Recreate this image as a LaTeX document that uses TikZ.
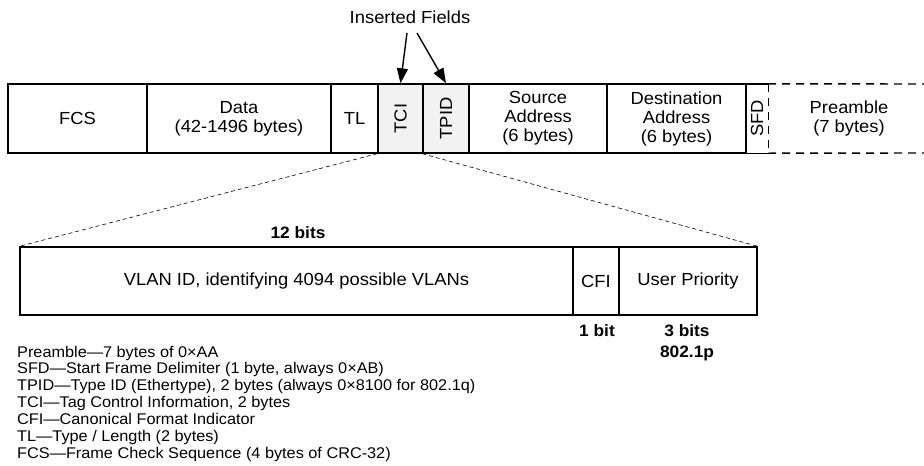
\documentclass[tikz,border=0pt]{standalone}
\usepackage{fontspec}
\setmainfont{Liberation Sans}[FakeStretch=1.05]
\usetikzlibrary{arrows.meta}
\newcommand\lblfont{\fontsize{17.5}{19}\selectfont}
\newcommand\legfont{\fontsize{15.5}{17}\selectfont}
\newcommand\bitfont{\fontsize{16.5}{20}\selectfont\bfseries}
\tikzset{
  frame/.style={line width=1.4pt},
  cell/.style={draw, frame, minimum height=69pt, inner sep=0pt, align=center, font=\lblfont},
  plain/.style={inner sep=0pt, align=center, font=\lblfont},
  inserted/.style={fill=black!5},
  zoomline/.style={dashed, dash pattern=on 4pt off 3pt, line width=0.6pt},
  openedge/.style={frame, dash pattern=on 8pt off 6pt},
  pointer/.style={line width=1.4pt, -{Triangle[length=15pt,width=11pt]}},
  bitlabel/.style={inner sep=0pt, font=\bitfont},
  legend/.style={inner sep=0pt, anchor=base west, font=\legfont}
}
\begin{document}
\begin{tikzpicture}[x=1pt, y=-1pt]
\useasboundingbox (0,0) rectangle (924,466);

% Ethernet frame with 802.1Q tag
\node[cell, minimum width=139pt] (fcs) at (77.5,118.5) {FCS};
\node[cell, minimum width=184pt] (data) at (239,118.5) {Data\\(42-1496 bytes)};
\node[cell, minimum width=47pt] (tl) at (354.5,118.5) {TL};
\node[cell, inserted, minimum width=45pt] (tci) at (400.5,118.5) {\rotatebox{90}{TCI}};
\node[cell, inserted, minimum width=46pt] (tpid) at (446,118.5) {\rotatebox{90}{TPID}};
\node[cell, minimum width=138pt] (src) at (538,118.5) {Source\\Address\\(6 bytes)};
\node[cell, minimum width=139pt] (dst) at (676.5,118.5) {Destination\\Address\\(6 bytes)};
\node[plain, minimum width=22pt, minimum height=69pt] (sfd) at (757,118.5) {\rotatebox{90}{SFD}};
\node[plain] (pre) at (849,118.5) {Preamble\\(7 bytes)};

% SFD: solid top and bottom, dashed right edge; preamble left open
\draw[frame] (sfd.north west) -- (sfd.north east);
\draw[frame] (sfd.south west) -- (sfd.south east);
\draw[openedge] (sfd.north east) -- (sfd.south east);
\coordinate (preNE) at (926,84);
\coordinate (preSE) at (926,153);
\draw[openedge] (sfd.north east) -- (preNE);
\draw[openedge] (sfd.south east) -- (preSE);

% Inserted fields callout
\node[plain] (ins) at (410,17) {Inserted Fields};
\coordinate (insA) at (407,33);
\coordinate (insB) at (417,33);
\draw[pointer] (insA) -- (tci.north);
\draw[pointer] (insB) -- (tpid.north);

% Tag control information, expanded
\node[cell, minimum width=553pt, minimum height=68pt] (vlan) at (296.5,281) {VLAN ID, identifying 4094 possible VLANs};
\node[cell, minimum width=46pt, minimum height=68pt] (cfi) at (596,281) {CFI};
\node[cell, minimum width=138pt, minimum height=68pt] (up) at (688,281) {User Priority};

\draw[zoomline] (tci.south west) -- (vlan.north west);
\draw[zoomline] (tpid.south west) -- (up.north east);

% Field widths
\node[bitlabel] (b12) at (298,233) {12 bits};
\node[bitlabel] (b1) at (597,331) {1 bit};
\node[bitlabel] (b3) at (687,331) {3 bits};
\node[bitlabel] (p8021) at (687,353) {802.1p};

% Abbreviations
\foreach \t [count=\i] in {
  {Preamble---7 bytes of 0×AA},
  {SFD---Start Frame Delimiter (1 byte, always 0×AB)},
  {TPID---Type ID (Ethertype), 2 bytes (always 0×8100 for 802.1q)},
  {TCI---Tag Control Information, 2 bytes},
  {CFI---Canonical Format Indicator},
  {TL---Type / Length (2 bytes)},
  {FCS---Frame Check Sequence (4 bytes of CRC-32)}}
  \node[legend] (leg\i) at (17, {357+(\i-1)*16.9}) {\t};
\end{tikzpicture}
\end{document}
